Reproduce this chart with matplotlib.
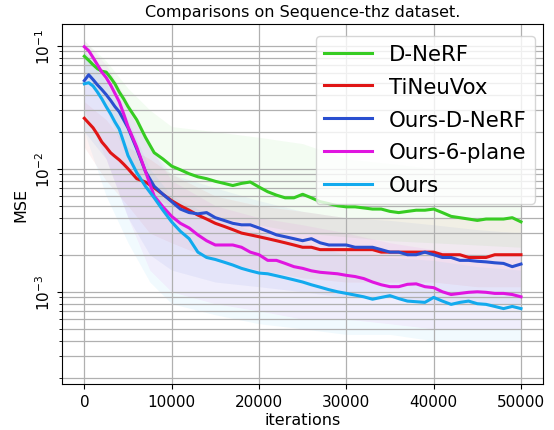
import matplotlib
matplotlib.use("Agg")
import matplotlib.pyplot as plt

# iterations for the smoothed curves
iters = [0, 500, 1000, 1500, 2000, 2500, 3000, 3500, 4000, 4500, 5000, 6000, 7000, 8000, 9000, 10000,
         11000, 12000, 13000, 14000, 15000, 16000, 17000, 18000, 19000, 20000,
         21000, 22000, 23000, 24000, 25000, 26000, 27000, 28000, 29000, 30000,
         31000, 32000, 33000, 34000, 35000, 36000, 37000, 38000, 39000, 40000,
         41000, 42000, 43000, 44000, 45000, 46000, 47000, 48000, 49000, 50000]

dnerf = [0.082, 0.076, 0.070, 0.065, 0.062, 0.061, 0.055, 0.049, 0.042, 0.037, 0.032, 0.025, 0.018, 0.0135, 0.012, 0.0105,
         0.0098, 0.0091, 0.0086, 0.0083, 0.0079, 0.0076, 0.0073, 0.0076, 0.0078, 0.0071,
         0.0065, 0.0061, 0.0058, 0.0058, 0.0062, 0.0058, 0.0054, 0.0052, 0.0050, 0.0049,
         0.0049, 0.0048, 0.0047, 0.0047, 0.0045, 0.0044, 0.0045, 0.0046, 0.0046, 0.0047,
         0.0044, 0.0041, 0.0040, 0.0039, 0.0038, 0.0039, 0.0039, 0.0039, 0.0040, 0.0037]
tineuvox = [0.0257, 0.0235, 0.0215, 0.019, 0.0165, 0.015, 0.0135, 0.0126, 0.0118, 0.0109, 0.0100, 0.0083, 0.0078, 0.0070, 0.0062, 0.0055,
            0.0050, 0.0046, 0.0042, 0.0039, 0.0036, 0.0034, 0.0032, 0.0030, 0.0029, 0.0028,
            0.0027, 0.0026, 0.0025, 0.0024, 0.0023, 0.0023, 0.0022, 0.0022, 0.0022, 0.0022,
            0.0022, 0.0022, 0.0022, 0.0021, 0.0021, 0.0021, 0.0021, 0.0021, 0.0021, 0.0021,
            0.0020, 0.0020, 0.0020, 0.0019, 0.0019, 0.0019, 0.0020, 0.0020, 0.0020, 0.0020]
ours_dnerf = [0.052, 0.058, 0.053, 0.048, 0.044, 0.040, 0.036, 0.032, 0.029, 0.025, 0.0215, 0.0145, 0.0095, 0.0072, 0.0062, 0.0054,
              0.0047, 0.0044, 0.0043, 0.0044, 0.0040, 0.0038, 0.0036, 0.0035, 0.0035, 0.0033,
              0.0031, 0.0029, 0.0028, 0.0027, 0.0026, 0.0027, 0.0025, 0.0024, 0.0024, 0.0024,
              0.0023, 0.0023, 0.0023, 0.0022, 0.0021, 0.0021, 0.0020, 0.0020, 0.0021, 0.0020,
              0.0019, 0.0019, 0.0018, 0.0018, 0.00177, 0.00175, 0.00172, 0.0017, 0.0016, 0.00168]
ours_6plane = [0.098, 0.091, 0.080, 0.070, 0.061, 0.055, 0.048, 0.041, 0.035, 0.028, 0.022, 0.0150, 0.0095, 0.0060, 0.0049, 0.0041,
               0.0036, 0.0033, 0.0029, 0.0026, 0.0024, 0.0024, 0.0024, 0.0023, 0.0021, 0.0020,
               0.0018, 0.0018, 0.0017, 0.0016, 0.00155, 0.00148, 0.00144, 0.00142, 0.0014, 0.00136,
               0.00133, 0.00128, 0.0012, 0.00114, 0.0011, 0.0011, 0.00115, 0.00116, 0.0011, 0.00108,
               0.0010, 0.00095, 0.00097, 0.00099, 0.0010, 0.00099, 0.00097, 0.00097, 0.00095, 0.00091]
ours = [0.049, 0.050, 0.047, 0.042, 0.037, 0.032, 0.028, 0.024, 0.021, 0.0165, 0.0128, 0.0093, 0.0072, 0.0058, 0.0046, 0.0037,
        0.0031, 0.0027, 0.0021, 0.0019, 0.00183, 0.00174, 0.00165, 0.00155, 0.00148, 0.00142,
        0.0014, 0.00135, 0.0013, 0.00125, 0.0012, 0.00114, 0.00109, 0.00104, 0.0010, 0.00097,
        0.00094, 0.00091, 0.00087, 0.0009, 0.00093, 0.00088, 0.00084, 0.00083, 0.00082, 0.0009,
        0.00084, 0.00079, 0.00082, 0.00084, 0.0008, 0.00079, 0.00076, 0.00073, 0.00076, 0.00073]

# rough spread of the raw (unsmoothed) losses
raw_iters = [0, 2500, 5000, 7500, 10000, 15000, 20000, 25000, 30000, 35000, 40000, 45000, 50000]
dnerf_hi = [0.11, 0.075, 0.045, 0.03, 0.022, 0.02, 0.018, 0.016, 0.012, 0.011, 0.010, 0.010, 0.010]
dnerf_lo = [0.06, 0.03, 0.012, 0.006, 0.005, 0.004, 0.0035, 0.003, 0.0028, 0.0026, 0.0025, 0.0024, 0.0023]
tineuvox_hi = [0.035, 0.025, 0.015, 0.012, 0.009, 0.006, 0.005, 0.0045, 0.004, 0.004, 0.004, 0.004, 0.004]
tineuvox_lo = [0.015, 0.008, 0.005, 0.003, 0.0025, 0.0018, 0.0015, 0.0013, 0.0012, 0.0012, 0.0012, 0.0011, 0.0011]
ours_dnerf_hi = [0.09, 0.06, 0.03, 0.015, 0.009, 0.007, 0.0055, 0.0045, 0.004, 0.0038, 0.0035, 0.0032, 0.003]
ours_dnerf_lo = [0.02, 0.012, 0.004, 0.002, 0.0015, 0.0012, 0.0011, 0.001, 0.0009, 0.0009, 0.0008, 0.0008, 0.0008]
ours_6plane_hi = [0.11, 0.07, 0.035, 0.015, 0.008, 0.005, 0.004, 0.0035, 0.003, 0.0025, 0.0022, 0.002, 0.002]
ours_6plane_lo = [0.03, 0.012, 0.004, 0.0015, 0.001, 0.0008, 0.0007, 0.0006, 0.0006, 0.00055, 0.0005, 0.0005, 0.0005]
ours_hi = [0.09, 0.05, 0.025, 0.01, 0.006, 0.004, 0.003, 0.0025, 0.002, 0.0019, 0.0018, 0.0016, 0.0015]
ours_lo = [0.02, 0.006, 0.0025, 0.0012, 0.0008, 0.00065, 0.00055, 0.0005, 0.00045, 0.00045, 0.0004, 0.0004, 0.0004]

labels = ["D-NeRF", "TiNeuVox", "Ours-D-NeRF", "Ours-6-plane", "Ours"]
colors = ["#36cc22", "#e01515", "#2a4fd0", "#e015e0", "#12aaee"]
curves = [dnerf, tineuvox, ours_dnerf, ours_6plane, ours]
bands = [(dnerf_lo, dnerf_hi), (tineuvox_lo, tineuvox_hi), (ours_dnerf_lo, ours_dnerf_hi),
         (ours_6plane_lo, ours_6plane_hi), (ours_lo, ours_hi)]

fig = plt.figure(figsize=(5.54, 4.31), dpi=100)
ax = fig.add_axes([0.1128, 0.1067, 0.867, 0.8353])

for (lo, hi), c in zip(bands, colors):
    ax.fill_between(raw_iters, lo, hi, color=c, alpha=0.055, lw=0)

for y, c, lab in zip(curves, colors, labels):
    ax.plot(iters, y, color=c, lw=2.2, label=lab)

ax.set_yscale("log")
ax.set_xlim(-2500, 52500)
ax.set_ylim(1.78e-4, 0.15)
ax.grid(True, which="both", color="#b0b0b0", lw=0.9)
ax.tick_params(labelsize=11)
plt.setp(ax.get_yticklabels(), rotation=90, va="center")
ax.set_xlabel("iterations", fontsize=11.5, labelpad=2)
ax.set_ylabel("MSE", fontsize=11.5)
ax.set_title("Comparisons on Sequence-thz dataset.", fontsize=11.5)
ax.legend(loc="upper right", bbox_to_anchor=(0.984, 0.968), borderaxespad=0,
          fontsize=15.3, handlelength=2.25, labelspacing=0.6)

fig.savefig("out.png", dpi=100)
